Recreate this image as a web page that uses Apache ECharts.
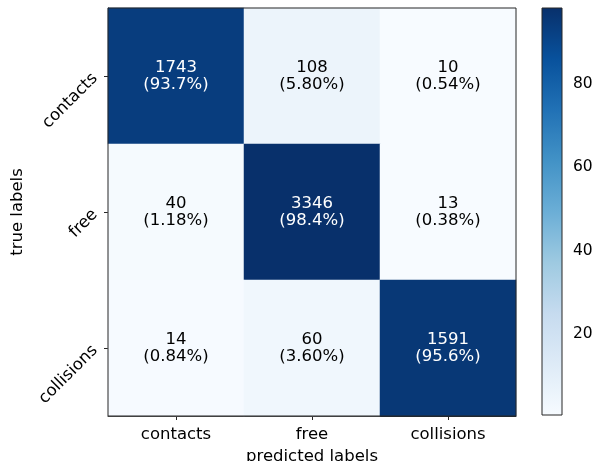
<!DOCTYPE html>
<html>
<head>
<meta charset="utf-8">
<script src="https://cdn.jsdelivr.net/npm/echarts@6/dist/echarts.min.js"></script>
<style>
  html, body { margin: 0; padding: 0; background: #fff; }
  #chart { width: 598px; height: 461px; }
</style>
</head>
<body>
<div id="chart"></div>
<script>
// Confusion matrix: rows are true labels, columns are predicted labels
const predictedLabels = ['contacts', 'free', 'collisions'];
const trueLabels = ['contacts', 'free', 'collisions'];
const counts = [
  [1743, 108, 10],
  [40, 3346, 13],
  [14, 60, 1591]
];
// Row-normalised share, as printed in each cell
const percents = [
  ['93.7', '5.80', '0.54'],
  ['1.18', '98.4', '0.38'],
  ['0.84', '3.60', '95.6']
];
const colorbarTicks = [20, 40, 60, 80];
const blues = ['#f7fbff', '#deebf7', '#c6dbef', '#9ecae1', '#6baed6',
               '#4292c6', '#2171b5', '#08519c', '#08306b'];

const allPct = percents.flat().map(Number);
const vmin = Math.min(...allPct);
const vmax = Math.max(...allPct);

const cells = [];
for (let r = 0; r < trueLabels.length; r++) {
  for (let c = 0; c < predictedLabels.length; c++) {
    const pct = Number(percents[r][c]);
    cells.push({
      value: [c, r, pct, counts[r][c], percents[r][c]],
      label: { color: pct > (vmin + vmax) / 2 ? '#ffffff' : '#000000' }
    });
  }
}

const FONT = 'DejaVu Sans';
const chart = echarts.init(document.getElementById('chart'), null, { renderer: 'canvas' });

chart.setOption({
  animation: false,
  backgroundColor: '#ffffff',
  textStyle: { fontFamily: FONT },
  grid: [
    { left: 108, top: 8, width: 408, height: 408, show: true, z: 5,
      outerBoundsMode: 'none', containLabel: false,
      backgroundColor: 'transparent', borderColor: '#262626', borderWidth: 1 },
    { left: 542, top: 8, width: 20, height: 407,
      outerBoundsMode: 'none', containLabel: false }
  ],
  xAxis: [
    {
      type: 'category', gridIndex: 0, data: predictedLabels,
      axisLine: { show: true, lineStyle: { color: '#262626', width: 1 } },
      axisTick: { show: true, alignWithLabel: true, length: 4, lineStyle: { color: '#262626' } },
      axisLabel: { fontFamily: FONT, fontSize: 16.5, color: '#000', margin: 10 },
      splitLine: { show: false },
      name: 'predicted labels', nameLocation: 'middle', nameGap: 31,
      nameTextStyle: { fontFamily: FONT, fontSize: 16.5, color: '#000' }
    },
    { type: 'value', gridIndex: 1, min: 0, max: 1, show: false }
  ],
  yAxis: [
    {
      type: 'category', gridIndex: 0, data: trueLabels, inverse: true,
      axisLine: { show: true, lineStyle: { color: '#262626', width: 1 } },
      axisTick: { show: true, alignWithLabel: true, length: 4, lineStyle: { color: '#262626' } },
      axisLabel: { fontFamily: FONT, fontSize: 16.5, color: '#000', rotate: 45, margin: 13 },
      splitLine: { show: false },
      name: 'true labels', nameLocation: 'middle', nameRotate: 90, nameGap: 82,
      nameTextStyle: { fontFamily: FONT, fontSize: 16.5, color: '#000' }
    },
    {
      type: 'value', gridIndex: 1, min: vmin, max: vmax, position: 'right',
      axisLine: { show: false },
      axisTick: { show: true, length: 4, customValues: colorbarTicks, lineStyle: { color: '#262626' } },
      axisLabel: { fontFamily: FONT, fontSize: 15.5, color: '#000', margin: 11, customValues: colorbarTicks },
      splitLine: { show: false }
    }
  ],
  visualMap: {
    show: false, type: 'continuous', seriesIndex: 0, dimension: 2,
    min: vmin, max: vmax, inRange: { color: blues }
  },
  series: [
    {
      type: 'heatmap', xAxisIndex: 0, yAxisIndex: 0, data: cells,
      label: {
        show: true, fontFamily: FONT, fontSize: 16.5, lineHeight: 17,
        formatter: p => p.value[3] + '\n(' + p.value[4] + '%)'
      },
      emphasis: { disabled: true }
    },
    {
      // colour bar drawn on its own value axis
      type: 'custom', xAxisIndex: 1, yAxisIndex: 1, silent: true,
      data: [[0, vmin, 1, vmax]],
      renderItem: function (params, api) {
        const p0 = api.coord([api.value(0), api.value(3)]);
        const p1 = api.coord([api.value(2), api.value(1)]);
        const stops = blues.map((c, i) => ({ offset: i / (blues.length - 1), color: c }));
        return {
          type: 'rect',
          shape: { x: p0[0], y: p0[1], width: p1[0] - p0[0], height: p1[1] - p0[1] },
          style: {
            fill: new echarts.graphic.LinearGradient(0, 1, 0, 0, stops),
            stroke: '#262626', lineWidth: 1
          }
        };
      }
    }
  ]
});
</script>
</body>
</html>
